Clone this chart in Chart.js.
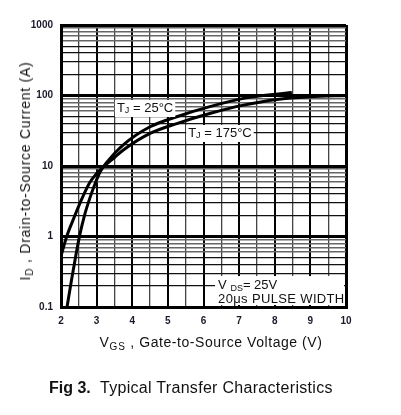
<!DOCTYPE html>
<html>
<head>
<meta charset="utf-8">
<script src="https://cdn.jsdelivr.net/npm/chart.js@4"></script>
<style>
  html, body { margin: 0; padding: 0; background: #fff; }
  #wrap { position: relative; width: 401px; height: 415px; overflow: hidden; font-family: "Liberation Sans", Arial, sans-serif; color: #111; }
  canvas { position: absolute; left: 0; top: 0; }
  .xt { position: absolute; left: 211px; top: 342px; transform: translate(-50%, -50%); font-size: 14px; white-space: nowrap; letter-spacing: 0.55px; }
  .yt { position: absolute; left: 25px; top: 171px; transform: translate(-50%, -50%) rotate(-90deg); font-size: 14px; white-space: nowrap; letter-spacing: 0.75px; }
  .sub { font-size: 10px; position: relative; top: 3px; letter-spacing: 1px; }
  .cap { position: absolute; left: 49px; top: 388px; transform: translateY(-50%); font-size: 16px; white-space: nowrap; letter-spacing: 0.3px; }
  .cap b { letter-spacing: 0; }
</style>
</head>
<body>
<div id="wrap">
  <canvas id="c" width="401" height="415"></canvas>
  <div class="xt">V<span class="sub">GS</span> , Gate-to-Source Voltage (V)</div>
  <div class="yt">I<span class="sub">D</span> , Drain-to-Source Current (A)</div>
  <div class="cap"><b>Fig 3.</b>&nbsp; Typical Transfer Characteristics</div>
</div>
<script>
// ---- data ----
const vgs25 = [2.17, 2.30, 2.42, 2.53, 2.66, 2.80, 2.95, 3.10, 3.33, 3.75, 4.50, 5.25, 6.20, 7.12, 8.48];
const id25  = [0.10, 0.25, 0.55, 1.07, 2.0, 3.39, 5.5, 8.3, 12.0, 20, 36, 50, 70, 91, 110];
const vgs175 = [2.00, 2.16, 2.36, 2.60, 2.80, 3.00, 3.20, 3.50, 3.75, 4.50, 5.25, 6.20, 7.12, 8.06, 9.00, 10.00];
const id175  = [0.53, 1.0, 1.82, 3.55, 5.75, 7.8, 9.8, 13.2, 16.9, 29, 40, 56, 73, 88, 96, 100];
const xTickLabels = ['2','3','4','5','6','7','8','9','10'];
const yTickLabels = ['0.1','1','10','100','1000'];
const yDecades = [0.1, 1, 10, 100, 1000];
const label25 = ['T', 'J', ' = 25°C'];
const label175 = ['T', 'J', ' = 175°C'];
const condLine1 = ['V ', 'DS', '= 25V'];
const condLine2 = '20μs PULSE WIDTH';

// y grid values: 1..9 per decade
const yGrid = [];
for (let d = 0; d < yDecades.length - 1; d++) {
  for (let k = 1; k <= 9; k++) yGrid.push(+(yDecades[d] * k).toPrecision(3));
}
yGrid.push(1000);

const FONT = '"Liberation Sans", Arial, sans-serif';

function drawRich(ctx, parts, x, y, big, small) {
  ctx.letterSpacing = '0px';
  ctx.font = big + 'px ' + FONT;
  const w0 = ctx.measureText(parts[0]).width;
  ctx.font = small + 'px ' + FONT;
  const w1 = ctx.measureText(parts[1]).width;
  ctx.font = big + 'px ' + FONT;
  const w2 = ctx.measureText(parts[2]).width;
  return {w: w0 + w1 + w2, draw: () => {
    ctx.textBaseline = 'middle';
    ctx.textAlign = 'left';
    ctx.fillStyle = '#111';
    ctx.font = big + 'px ' + FONT;
    ctx.fillText(parts[0], x, y);
    ctx.font = small + 'px ' + FONT;
    ctx.fillText(parts[1], x + w0, y + 3);
    ctx.font = big + 'px ' + FONT;
    ctx.fillText(parts[2], x + w0 + w1, y);
  }};
}

const labelsPlugin = {
  id: 'labels',
  afterDatasetsDraw(chart) {
    const ctx = chart.ctx;
    const xs = chart.scales.x, ys = chart.scales.y;
    const ca = chart.chartArea;
    ctx.save();
    // T_J = 25°C
    let x = xs.getPixelForValue(3.57), y = ys.getPixelForValue(66.5);
    let r = drawRich(ctx, label25, x, y, 13, 9);
    ctx.fillStyle = '#fff';
    ctx.fillRect(x - 2, y - 8, r.w + 4, 17);
    r.draw();
    // T_J = 175°C
    x = xs.getPixelForValue(5.57); y = ys.getPixelForValue(29.4);
    r = drawRich(ctx, label175, x, y, 13, 9);
    ctx.fillStyle = '#fff';
    ctx.fillRect(x - 2, y - 8, r.w + 4, 17);
    r.draw();
    // conditions box
    x = xs.getPixelForValue(6.41);
    const y1 = ys.getPixelForValue(0.205), y2 = ys.getPixelForValue(0.13);
    ctx.fillStyle = '#fff';
    ctx.fillRect(x - 3, y1 - 9, ca.right - 2 - (x - 3), ca.bottom - 2 - (y1 - 9));
    r = drawRich(ctx, condLine1, x, y1, 13, 9);
    r.draw();
    ctx.font = '13px ' + FONT;
    ctx.letterSpacing = '0.35px';
    ctx.fillStyle = '#111';
    ctx.textBaseline = 'middle';
    ctx.fillText(condLine2, x, y2);
    ctx.restore();
  }
};

new Chart(document.getElementById('c'), {
  type: 'line',
  data: {
    datasets: [
      { label: 'TJ = 25°C', data: vgs25.map((v, i) => ({x: v, y: id25[i]})),
        borderColor: '#000', borderWidth: 3, pointRadius: 0, cubicInterpolationMode: 'monotone', fill: false },
      { label: 'TJ = 175°C', data: vgs175.map((v, i) => ({x: v, y: id175[i]})),
        borderColor: '#000', borderWidth: 3, pointRadius: 0, cubicInterpolationMode: 'monotone', fill: false }
    ]
  },
  options: {
    responsive: false,
    animation: false,
    devicePixelRatio: 1,
    layout: { padding: { left: 30, top: 25, right: 55, bottom: 88 } },
    plugins: { legend: { display: false }, tooltip: { enabled: false }, title: { display: false } },
    scales: {
      x: {
        type: 'linear', min: 2, max: 10,
        afterFit: s => { s.height = 20; },
        afterBuildTicks: s => {
          const t = [];
          for (let v = 2; v <= 10.001; v += 0.5) t.push({value: v});
          s.ticks = t;
        },
        ticks: {
          autoSkip: false, maxRotation: 0, padding: 8,
          font: { family: FONT, size: 10, weight: 'bold' }, color: '#1a1a2a',
          callback: (v) => Number.isInteger(v) ? xTickLabels[v - 2] : ''
        },
        grid: {
          drawTicks: false,
          color: c => (Number.isInteger(c.tick.value) ? '#000' : '#444'),
          lineWidth: c => (c.tick.value === 10 || c.tick.value === 2) ? 3 : (Number.isInteger(c.tick.value) ? 2 : 1.3)
        },
        border: { color: '#000', width: 3 }
      },
      y: {
        type: 'logarithmic', min: 0.1, max: 1000,
        afterFit: s => { s.width = 31; },
        afterBuildTicks: s => { s.ticks = yGrid.map(v => ({value: v})); },
        ticks: {
          autoSkip: false, padding: 8,
          font: { family: FONT, size: 10, weight: 'bold' }, color: '#1a1a2a',
          callback: (v) => { const i = yDecades.indexOf(+(+v).toPrecision(3)); return i >= 0 ? yTickLabels[i] : ''; }
        },
        grid: {
          drawTicks: false,
          color: c => {
            const v = c.tick.value; const m = Math.round(v / Math.pow(10, Math.floor(Math.log10(v) + 1e-9)));
            return m === 1 ? '#000' : (m >= 6 ? '#666' : '#111');
          },
          lineWidth: c => {
            const v = c.tick.value; const m = Math.round(v / Math.pow(10, Math.floor(Math.log10(v) + 1e-9)));
            return m === 1 ? 3 : (m >= 6 ? 1.5 : 1.2);
          }
        },
        border: { color: '#000', width: 3 }
      }
    }
  },
  plugins: [labelsPlugin]
});
</script>
</body>
</html>
